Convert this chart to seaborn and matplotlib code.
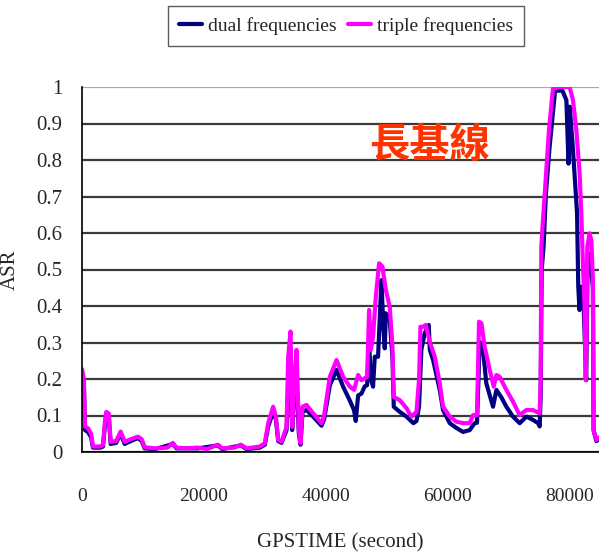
import numpy as np
import pandas as pd
import matplotlib
matplotlib.use("Agg")
import matplotlib.pyplot as plt
import seaborn as sns
from matplotlib.lines import Line2D

# ---- data ----
triple_t = [0, 300, 500, 980, 1500, 1800, 3000, 3440, 3800, 3980, 4400, 4700, 5600, 6340, 7000,
            8000, 9180, 9800, 10280, 12000, 14000, 14900, 15500, 17000, 19000, 20500, 22290, 23000,
            25000, 26060, 27000, 29170, 29990, 30540, 31350, 31800, 32180, 32730, 33550, 33820,
            34200, 34470, 34800, 35190, 35570, 35840, 36170, 36830, 37910, 39290, 39720, 40650,
            41750, 42830, 43930, 44630, 45290, 45840, 46380, 46760, 47090, 47370, 47740, 48190,
            48730, 49280, 49830, 50480, 50920, 51140, 52120, 53220, 54040, 54860, 55280, 55510,
            55940, 56380, 57040, 57860, 58680, 59220, 60320, 61410, 62500, 63590, 64140, 64790,
            65120, 65510, 66050, 66870, 67530, 67970, 68510, 69610, 70690, 71790, 72890, 73970,
            75070, 75230, 75340, 75610, 76050, 76590, 77250, 78340, 79980, 80530, 81080, 81620,
            81900, 82160, 82440, 82610, 82750, 82880, 83260, 83540, 83800, 83910, 84360, 84800]
triple_asr = [0.227, 0.20, 0.07, 0.065, 0.05, 0.015, 0.015, 0.02, 0.09, 0.11, 0.105, 0.028, 0.03,
              0.056, 0.028, 0.035, 0.042, 0.035, 0.013, 0.01, 0.012, 0.025, 0.012, 0.01, 0.012,
              0.008, 0.02, 0.01, 0.012, 0.02, 0.01, 0.015, 0.024, 0.079, 0.124, 0.097, 0.033,
              0.028, 0.069, 0.261, 0.33, 0.069, 0.188, 0.28, 0.06, 0.024, 0.124, 0.129, 0.106,
              0.079, 0.101, 0.206, 0.252, 0.206, 0.179, 0.17, 0.211, 0.197, 0.202, 0.206, 0.389,
              0.28, 0.316, 0.425, 0.517, 0.508, 0.444, 0.398, 0.288, 0.151, 0.142, 0.12, 0.097,
              0.11, 0.197, 0.343, 0.343, 0.348, 0.302, 0.261, 0.188, 0.124, 0.097, 0.083, 0.079,
              0.079, 0.101, 0.101, 0.357, 0.353, 0.288, 0.225, 0.179, 0.211, 0.206, 0.17, 0.138,
              0.101, 0.115, 0.115, 0.106, 0.197, 0.562, 0.636, 0.745, 0.882, 0.996, 1.0, 1.0,
              0.964, 0.882, 0.764, 0.654, 0.517, 0.398, 0.197, 0.3, 0.562, 0.599, 0.58, 0.471,
              0.06, 0.033, 0.04]

dual_t = [0, 300, 500, 980, 1500, 1800, 3000, 3440, 3800, 3980, 4400, 4700, 5600, 6340, 7000,
          8000, 9180, 9800, 10280, 12000, 14900, 15500, 19000, 22290, 23000, 26060, 27000, 29170,
          29990, 30540, 31350, 31800, 32180, 32730, 33550, 33820, 34200, 34470, 34800, 35190,
          35570, 35840, 36170, 36830, 37910, 39290, 39720, 40650, 41750, 42830, 43930, 44630,
          44900, 45290, 45840, 46380, 46760, 47090, 47370, 47740, 48020, 48560, 49120, 49400,
          49660, 49830, 50480, 50920, 51140, 52120, 53220, 54360, 54860, 55280, 55660, 56210,
          56870, 57050, 57590, 58680, 59220, 60320, 61410, 62500, 63590, 64410, 64790, 65230,
          65780, 66320, 67420, 67970, 68780, 69610, 70690, 71790, 72890, 73970, 74800, 75070,
          75230, 75400, 75700, 76100, 76700, 77600, 78800, 79450, 79800, 80000, 80500, 81200,
          81400, 81600, 81900, 82160, 82300, 82700, 82950, 83300, 83800, 83910, 84360, 84800]
dual_asr = [0.22, 0.19, 0.06, 0.055, 0.04, 0.012, 0.012, 0.015, 0.08, 0.10, 0.095, 0.022, 0.025,
            0.05, 0.022, 0.03, 0.038, 0.03, 0.01, 0.008, 0.022, 0.01, 0.01, 0.018, 0.008, 0.018,
            0.008, 0.012, 0.02, 0.07, 0.11, 0.09, 0.03, 0.025, 0.06, 0.17, 0.25, 0.06, 0.16, 0.2,
            0.05, 0.02, 0.11, 0.115, 0.097, 0.072, 0.09, 0.183, 0.225, 0.179, 0.141, 0.114, 0.085,
            0.155, 0.16, 0.18, 0.183, 0.3, 0.2, 0.179, 0.261, 0.261, 0.471, 0.35, 0.284, 0.38,
            0.36, 0.26, 0.124, 0.11, 0.097, 0.079, 0.085, 0.124, 0.28, 0.325, 0.348, 0.28, 0.252,
            0.17, 0.115, 0.079, 0.066, 0.055, 0.06, 0.079, 0.08, 0.302, 0.28, 0.188, 0.124, 0.17,
            0.15, 0.124, 0.097, 0.079, 0.097, 0.088, 0.079, 0.07, 0.15, 0.5, 0.56, 0.71, 0.836,
            0.99, 0.99, 0.964, 0.79, 0.946, 0.836, 0.654, 0.453, 0.389, 0.453, 0.436, 0.39,
            0.197, 0.544, 0.54, 0.45, 0.06, 0.03, 0.035]

series_names = ["dual frequencies", "triple frequencies"]
series_colors = ["#000080", "#FF00FF"]
x_ticks = [0, 20000, 40000, 60000, 80000]
y_ticks = [0, 0.1, 0.2, 0.3, 0.4, 0.5, 0.6, 0.7, 0.8, 0.9, 1]
y_tick_labels = ["0", "0.1", "0.2", "0.3", "0.4", "0.5", "0.6", "0.7", "0.8", "0.9", "1"]

df = pd.concat([
    pd.DataFrame({"t": dual_t, "asr": dual_asr, "series": series_names[0]}),
    pd.DataFrame({"t": triple_t, "asr": triple_asr, "series": series_names[1]}),
], ignore_index=True)

sns.set_style("white")
plt.rcParams["font.family"] = ["Liberation Serif", "DejaVu Serif"]

fig = plt.figure(figsize=(5.99, 5.57), dpi=100)
ax = fig.add_axes([82 / 599, 1 - 452 / 557, 1 - 82 / 599, (452 - 87) / 557])

sns.lineplot(data=df, x="t", y="asr", hue="series", hue_order=series_names,
             palette=dict(zip(series_names, series_colors)),
             estimator=None, sort=False, linewidth=3.0, ax=ax, legend=False)
# triple drawn above dual
for ln in ax.lines:
    c = matplotlib.colors.to_hex(ln.get_color()).lower()
    ln.set_zorder(4 if c == "#ff00ff" else 3)

ax.set_xlim(0, 84800)
ax.set_ylim(0, 1)
ax.set_xticks(x_ticks)
ax.set_xticklabels([str(v) for v in x_ticks], fontsize=14)
ax.set_yticks(y_ticks)
ax.set_yticklabels(y_tick_labels, fontsize=15)
ax.tick_params(axis="x", direction="in", length=7, width=1, color="black", pad=26)
ax.tick_params(axis="y", length=0, pad=14)

ax.yaxis.grid(True, color="#3a3a3a", linewidth=1.6)
ax.xaxis.grid(False)
ax.set_axisbelow(True)
ax.get_ygridlines()[-1].set_color("#a8a8a8")

for side in ["top", "right"]:
    ax.spines[side].set_visible(False)
for side in ["left", "bottom"]:
    ax.spines[side].set_color("black")
    ax.spines[side].set_linewidth(1.2)
    ax.spines[side].set_zorder(5)

ax.set_xlabel("GPSTIME (second)", fontsize=15, labelpad=20)
ax.set_ylabel("ASR", fontsize=15, labelpad=12)

ax.text(0.672, 0.84, "長基線", transform=ax.transAxes, fontsize=29, fontweight="bold",
        color="#FF3300", family=["Noto Sans CJK TC", "DejaVu Sans"], ha="center", va="center")

handles = [Line2D([], [], color=series_colors[0], linewidth=3),
           Line2D([], [], color=series_colors[1], linewidth=3)]
leg = fig.legend(handles, series_names, loc="center", bbox_to_anchor=(346 / 599, 1 - 26 / 557),
                 ncol=2, fontsize=14, frameon=True, fancybox=False, handlelength=1.2,
                 handletextpad=0.3, columnspacing=0.6, borderpad=0.55, edgecolor="#333333")
leg.get_frame().set_linewidth(1.0)

fig.savefig("out.png", dpi=100)
